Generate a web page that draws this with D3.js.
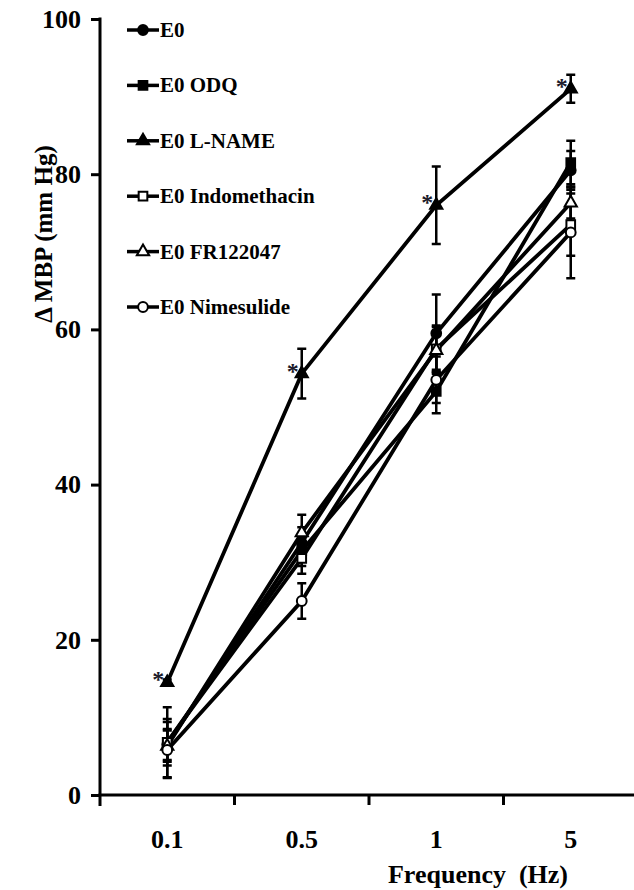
<!DOCTYPE html>
<html>
<head>
<meta charset="utf-8">
<script src="https://cdn.jsdelivr.net/npm/d3@7/dist/d3.min.js"></script>
<style>
  html, body { margin: 0; padding: 0; background: #fff; }
  svg { display: block; }
  text { font-family: "Liberation Serif", "Times New Roman", serif; font-weight: bold; fill: #000; }
</style>
</head>
<body>
<svg id="chart" width="634" height="890"></svg>
<script>
// Stimulation frequencies (Hz)
const frequencies = ["0.1", "0.5", "1", "5"];

// Series names, in legend order
const seriesNames = ["E0", "E0 ODQ", "E0 L-NAME", "E0 Indomethacin", "E0 FR122047", "E0 Nimesulide"];

// Mean change in blood pressure (mm Hg) for each frequency
const meanE0     = [6.5, 32.5, 59.5, 80.5];
const meanODQ    = [6.8, 31.5, 52.0, 81.5];
const meanLNAME  = [14.5, 54.3, 76.0, 91.0];
const meanIndo   = [6.8, 30.5, 57.5, 73.5];
const meanFR     = [6.3, 33.8, 57.3, 76.3];
const meanNime   = [5.8, 25.0, 53.5, 72.5];

// Standard errors (mm Hg)
const errE0      = [2.0, 2.0, 5.0, 2.5];
const errODQ     = [4.5, 2.0, 2.8, 2.8];
const errLNAME   = [0.4, 3.2, 5.0, 1.8];
const errIndo    = [3.0, 2.0, 3.0, 4.0];
const errFR      = [2.0, 2.3, 3.0, 2.0];
const errNime    = [3.6, 2.3, 3.0, 5.9];

// Frequencies at which L-NAME differs significantly
const significant = ["0.1", "0.5", "1", "5"];

// Y axis ticks
const yTicks = [0, 20, 40, 60, 80, 100];

const series = [
  { name: seriesNames[0], mean: meanE0,    err: errE0,    marker: "circle",   filled: true },
  { name: seriesNames[1], mean: meanODQ,   err: errODQ,   marker: "square",   filled: true },
  { name: seriesNames[2], mean: meanLNAME, err: errLNAME, marker: "triangle", filled: true },
  { name: seriesNames[3], mean: meanIndo,  err: errIndo,  marker: "square",   filled: false },
  { name: seriesNames[4], mean: meanFR,    err: errFR,    marker: "triangle", filled: false },
  { name: seriesNames[5], mean: meanNime,  err: errNime,  marker: "circle",   filled: false }
];

const svg = d3.select("#chart");
const plotLeft = 100, plotRight = 638, plotTop = 19, plotBottom = 795;

const x = d3.scaleBand().domain(frequencies).range([plotLeft, plotRight]);
const y = d3.scaleLinear().domain([0, 100]).range([plotBottom, plotTop]);
const cx = f => x(f) + x.bandwidth() / 2;

const symbolFor = {
  circle:   d3.symbol().type(d3.symbolCircle).size(75),
  square:   d3.symbol().type(d3.symbolSquare).size(75),
  triangle: d3.symbol().type(d3.symbolTriangle).size(65)
};

// Axes
const yAxis = svg.append("g").attr("transform", `translate(${plotLeft},0)`)
  .call(d3.axisLeft(y).tickValues(yTicks).tickSize(9).tickSizeOuter(0).tickPadding(10));
yAxis.select(".domain").attr("stroke-width", 3).attr("d", `M0,${plotTop - 1.5}V${plotBottom + 11}`);
yAxis.selectAll(".tick line").attr("stroke-width", 3);
yAxis.selectAll(".tick text").style("font-size", "26px");

const xAxis = svg.append("g").attr("transform", `translate(0,${plotBottom})`);
xAxis.append("line").attr("x1", plotLeft - 1.5).attr("x2", 634).attr("stroke", "#000").attr("stroke-width", 3);
xAxis.selectAll("line.tick").data(frequencies.slice(1)).join("line")
  .attr("class", "tick")
  .attr("x1", d => x(d)).attr("x2", d => x(d))
  .attr("y1", 0).attr("y2", 10)
  .attr("stroke", "#000").attr("stroke-width", 3);
xAxis.selectAll("text.label").data(frequencies).join("text")
  .attr("class", "label")
  .attr("x", d => cx(d)).attr("y", 53)
  .attr("text-anchor", "middle")
  .style("font-size", "26px")
  .text(d => d);

svg.append("text")
  .attr("x", 478).attr("y", 883)
  .attr("text-anchor", "middle")
  .style("font-size", "26px")
  .attr("xml:space", "preserve")
  .text("Frequency  (Hz)");

svg.append("text")
  .attr("transform", "translate(52,234) rotate(-90)")
  .attr("text-anchor", "middle")
  .style("font-size", "25px")
  .text("\u0394 MBP (mm Hg)");

// Lines
const line = d3.line().x((d, i) => cx(frequencies[i])).y(d => y(d));
const plot = svg.append("g");
series.forEach(s => {
  plot.append("path").datum(s.mean)
    .attr("d", line).attr("fill", "none")
    .attr("stroke", "#000").attr("stroke-width", 3.8);
});

// Error bars
const cap = 4.5;
series.forEach(s => {
  const g = plot.append("g");
  s.mean.forEach((m, i) => {
    const px = cx(frequencies[i]);
    const y1 = y(m + s.err[i]), y2 = y(m - s.err[i]);
    g.append("path")
      .attr("d", `M${px},${y1}V${y2}M${px - cap},${y1}H${px + cap}M${px - cap},${y2}H${px + cap}`)
      .attr("stroke", "#000").attr("stroke-width", 2.5).attr("fill", "none");
  });
});

// Markers
series.forEach(s => {
  plot.append("g").selectAll("path").data(s.mean).join("path")
    .attr("transform", (d, i) => `translate(${cx(frequencies[i])},${y(d)})`)
    .attr("d", symbolFor[s.marker])
    .attr("fill", s.filled ? "#000" : "#fff")
    .attr("stroke", "#000").attr("stroke-width", 2);
});

// Significance marks beside L-NAME points
const lname = series[2];
svg.append("g").selectAll("text").data(significant).join("text")
  .attr("x", d => cx(d) - 9)
  .attr("y", d => y(lname.mean[frequencies.indexOf(d)]) + 5)
  .attr("text-anchor", "middle")
  .style("font-size", "24px")
  .style("fill", "#1b1b2a")
  .text("*");

// Legend
const legend = svg.append("g").attr("transform", "translate(127,30)");
const rowH = 55.4;
series.forEach((s, i) => {
  const g = legend.append("g").attr("transform", `translate(0,${i * rowH})`);
  g.append("line").attr("x1", 0).attr("x2", 32).attr("y1", 0).attr("y2", 0)
    .attr("stroke", "#000").attr("stroke-width", 3.5);
  g.append("path").attr("transform", "translate(16,0)")
    .attr("d", symbolFor[s.marker])
    .attr("fill", s.filled ? "#000" : "#fff")
    .attr("stroke", "#000").attr("stroke-width", 2);
  g.append("text").attr("x", 33).attr("y", 7)
    .style("font-size", "21px")
    .text(s.name);
});
</script>
</body>
</html>
